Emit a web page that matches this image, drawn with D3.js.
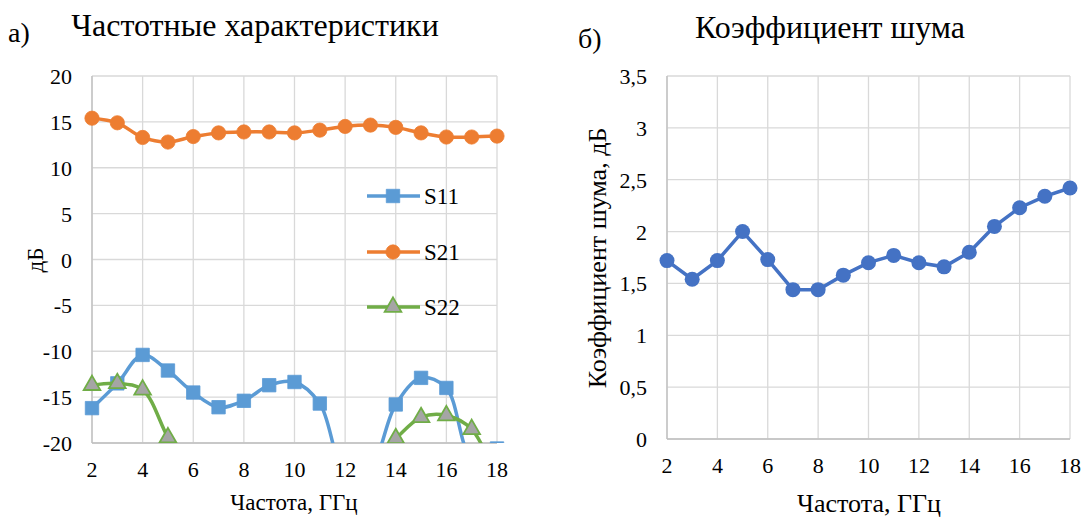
<!DOCTYPE html>
<html>
<head>
<meta charset="utf-8">
<script src="https://cdn.jsdelivr.net/npm/d3@7"></script>
<style>
  body { margin: 0; background: #fff; }
</style>
</head>
<body>
<div id="chart"></div>
<script>
// frequency, GHz
var freq = [2, 3, 4, 5, 6, 7, 8, 9, 10, 11, 12, 13, 14, 15, 16, 17, 18];

// S-parameters, dB (values below -20 are off the plot, estimated)
var s11 = [-16.2, -13.5, -10.4, -12.1, -14.5, -16.1, -15.4, -13.7, -13.35, -15.7, -23, -22.5, -15.8, -12.9, -14.0, -21.5, -20.6];
var s21 = [15.4, 14.9, 13.3, 12.8, 13.4, 13.8, 13.9, 13.9, 13.8, 14.1, 14.5, 14.65, 14.4, 13.8, 13.35, 13.35, 13.45];
var s22 = [-13.7, -13.5, -14.2, -19.4, -24, -26, -27, -27, -26, -25, -24, -22, -19.5, -17.2, -17.0, -18.5, -24];

// noise figure, dB
var nf = [1.72, 1.54, 1.72, 2.0, 1.73, 1.44, 1.44, 1.58, 1.70, 1.77, 1.70, 1.66, 1.80, 2.05, 2.23, 2.34, 2.42];

var xTicks = [2, 4, 6, 8, 10, 12, 14, 16, 18];
var yTicksS = [-20, -15, -10, -5, 0, 5, 10, 15, 20];
var yTicksNF = [0, 0.5, 1, 1.5, 2, 2.5, 3, 3.5];

var W = 1084, H = 517;
var svg = d3.select("#chart").append("svg").attr("width", W).attr("height", H)
    .attr("font-family", "'Liberation Serif', Tinos, 'DejaVu Serif', serif")
    .attr("fill", "#000");

var gridColor = "#d9d9d9", axisColor = "#bfbfbf";

function drawFrame(box, x, y, yTicks, fmt) {
    var g = svg.append("g");
    g.selectAll(".vg").data(xTicks).enter().append("line")
        .attr("x1", function(d) { return x(d); }).attr("x2", function(d) { return x(d); })
        .attr("y1", box.top).attr("y2", box.bottom)
        .attr("stroke", gridColor).attr("stroke-width", 1.3);
    g.selectAll(".hg").data(yTicks).enter().append("line")
        .attr("x1", box.left).attr("x2", box.right)
        .attr("y1", function(d) { return y(d); }).attr("y2", function(d) { return y(d); })
        .attr("stroke", gridColor).attr("stroke-width", 1.3);
    g.append("line").attr("x1", box.left).attr("x2", box.right)
        .attr("y1", box.bottom).attr("y2", box.bottom)
        .attr("stroke", axisColor).attr("stroke-width", 1.5);
    g.append("line").attr("x1", box.left).attr("x2", box.left)
        .attr("y1", box.top).attr("y2", box.bottom)
        .attr("stroke", axisColor).attr("stroke-width", 1.3);

    g.selectAll(".xl").data(xTicks).enter().append("text")
        .attr("x", function(d) { return x(d); }).attr("y", box.bottom + 34)
        .attr("text-anchor", "middle").attr("font-size", 22)
        .text(function(d) { return d; });
    g.selectAll(".yl").data(yTicks).enter().append("text")
        .attr("x", box.left - 20).attr("y", function(d) { return y(d) + 8; })
        .attr("text-anchor", "end").attr("font-size", 22)
        .text(fmt);
}

// ---------- left chart ----------
var boxA = {left: 92, right: 497, top: 76, bottom: 443};
var xA = d3.scaleLinear().domain([2, 18]).range([boxA.left, boxA.right]);
var yA = d3.scaleLinear().domain([-20, 20]).range([boxA.bottom, boxA.top]);
drawFrame(boxA, xA, yA, yTicksS, function(d) { return d; });

var lineA = d3.line().x(function(d, i) { return xA(freq[i]); }).y(function(d) { return yA(d); })
    .curve(d3.curveCatmullRom.alpha(0.5));

var series = [
    {name: "S11", data: s11, color: "#5b9bd5", marker: "square", fill: "#5b9bd5"},
    {name: "S21", data: s21, color: "#ed7d31", marker: "circle", fill: "#ed7d31"},
    {name: "S22", data: s22, color: "#70ad47", marker: "triangle", fill: "#a5a5a5"}
];

var sym = {
    square: d3.symbol().type(d3.symbolSquare).size(180),
    circle: d3.symbol().type(d3.symbolCircle).size(160),
    triangle: d3.symbol().type(d3.symbolTriangle).size(120)
};

svg.append("clipPath").attr("id", "clipA").append("rect")
    .attr("x", boxA.left - 12).attr("y", boxA.top - 12)
    .attr("width", boxA.right - boxA.left + 24).attr("height", boxA.bottom - boxA.top + 12);
var plotA = svg.append("g").attr("clip-path", "url(#clipA)");

series.forEach(function(s) {
    plotA.append("path").datum(s.data).attr("d", lineA)
        .attr("fill", "none").attr("stroke", s.color).attr("stroke-width", 3.5);
    plotA.selectAll(".m" + s.name).data(s.data).enter().append("path")
        .attr("d", sym[s.marker])
        .attr("transform", function(d, i) { return "translate(" + xA(freq[i]) + "," + yA(d) + ")"; })
        .attr("fill", s.fill)
        .attr("stroke", s.color)
        .attr("stroke-width", s.marker === "triangle" ? 1.8 : 0.8);
});

// legend
var legY = [196, 252, 307];
series.forEach(function(s, i) {
    var lg = svg.append("g");
    lg.append("line").attr("x1", 367).attr("x2", 420).attr("y1", legY[i]).attr("y2", legY[i])
        .attr("stroke", s.color).attr("stroke-width", 3.5);
    lg.append("path").attr("d", sym[s.marker])
        .attr("transform", "translate(393," + legY[i] + ")")
        .attr("fill", s.fill).attr("stroke", s.color)
        .attr("stroke-width", s.marker === "triangle" ? 1.8 : 0.8);
    lg.append("text").attr("x", 424).attr("y", legY[i] + 8).attr("font-size", 23).text(s.name);
});

svg.append("text").attr("x", 8).attr("y", 42).attr("font-size", 28).text("а)");
svg.append("text").attr("x", 255).attr("y", 36).attr("text-anchor", "middle").attr("font-size", 32)
    .text("Частотные характеристики");
svg.append("text").attr("transform", "translate(43,260) rotate(-90)")
    .attr("text-anchor", "middle").attr("font-size", 23).text("дБ");
svg.append("text").attr("x", 294).attr("y", 510).attr("text-anchor", "middle").attr("font-size", 23)
    .text("Частота, ГГц");

// ---------- right chart ----------
var boxB = {left: 667, right: 1070, top: 76, bottom: 439};
var xB = d3.scaleLinear().domain([2, 18]).range([boxB.left, boxB.right]);
var yB = d3.scaleLinear().domain([0, 3.5]).range([boxB.bottom, boxB.top]);
drawFrame(boxB, xB, yB, yTicksNF, function(d) { return String(d).replace(".", ","); });

var lineB = d3.line().x(function(d, i) { return xB(freq[i]); }).y(function(d) { return yB(d); });
svg.append("path").datum(nf).attr("d", lineB)
    .attr("fill", "none").attr("stroke", "#4472c4").attr("stroke-width", 3.5);
svg.selectAll(".nf").data(nf).enter().append("circle")
    .attr("cx", function(d, i) { return xB(freq[i]); })
    .attr("cy", function(d) { return yB(d); })
    .attr("r", 7.5).attr("fill", "#4472c4");

svg.append("text").attr("x", 578).attr("y", 48).attr("font-size", 28).text("б)");
svg.append("text").attr("x", 830).attr("y", 38).attr("text-anchor", "middle").attr("font-size", 32)
    .text("Коэффициент шума");
svg.append("text").attr("transform", "translate(606,258) rotate(-90)")
    .attr("text-anchor", "middle").attr("font-size", 26).text("Коэффициент шума, дБ");
svg.append("text").attr("x", 869).attr("y", 512).attr("text-anchor", "middle").attr("font-size", 26)
    .text("Частота, ГГц");
</script>
</body>
</html>
